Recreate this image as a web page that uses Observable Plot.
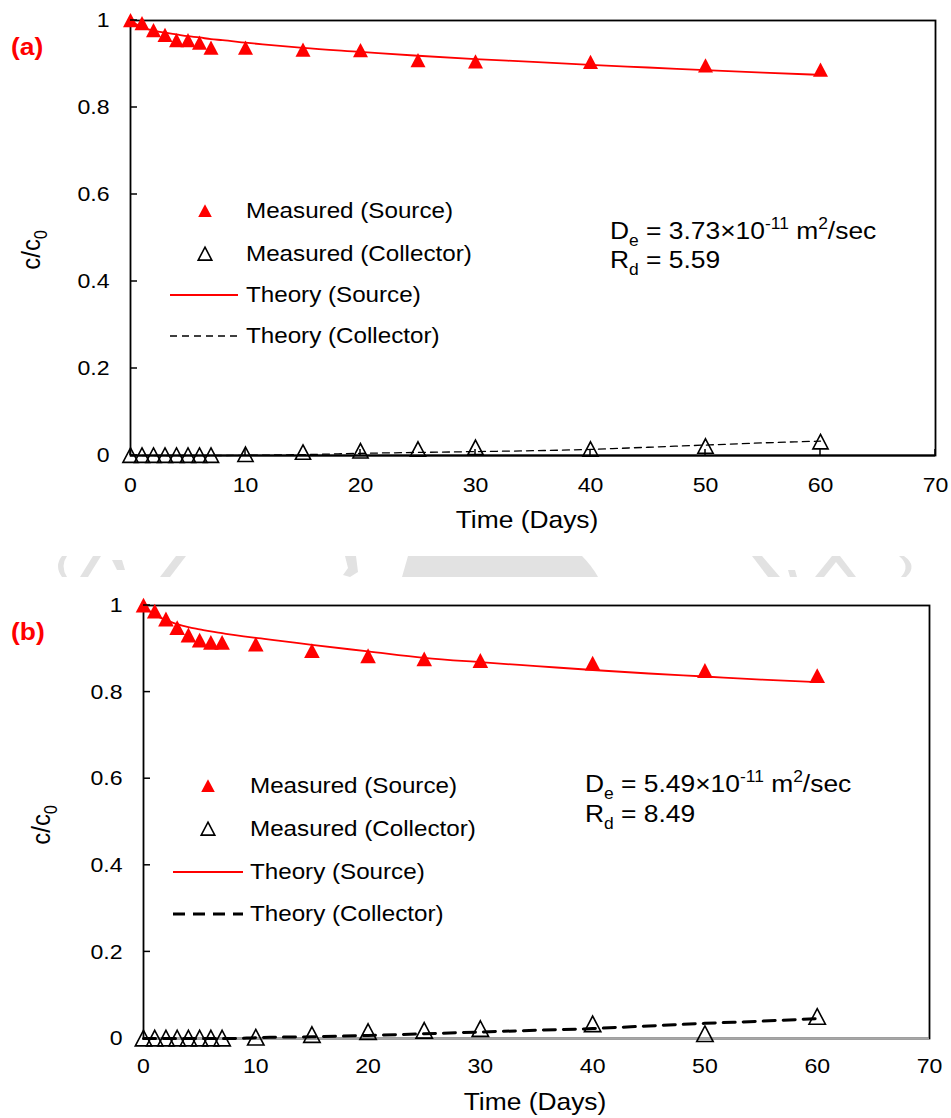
<!DOCTYPE html>
<html>
<head>
<meta charset="utf-8">
<script src="https://cdn.jsdelivr.net/npm/d3@7"></script>
<script src="https://cdn.jsdelivr.net/npm/@observablehq/plot@0.6"></script>
<style>
  html,body{margin:0;padding:0;background:#fff;}
  #wrap{position:relative;width:951px;height:1118px;overflow:hidden;background:#fff;}
  #wrap svg{position:absolute;left:0;}
</style>
</head>
<body>
<div id="wrap"></div>
<script>
// ---------- data ----------
const days = [0,1,2,3,4,5,6,7,10,15,20,25,30,40,50,60];
const sourceA    = [1.0,0.993,0.977,0.966,0.954,0.954,0.948,0.937,0.937,0.932,0.931,0.908,0.905,0.904,0.896,0.886];
const collectorA = [0,0,0,0,0,0,0,0,0.002,0.007,0.010,0.014,0.018,0.014,0.021,0.031];
const sourceB    = [1.0,0.986,0.968,0.948,0.931,0.919,0.914,0.914,0.910,0.895,0.883,0.876,0.872,0.866,0.849,0.837];
const collectorB = [0,0,0,0,0,0,0,0,0.002,0.008,0.015,0.018,0.022,0.033,0.010,0.050];

const theoryDays = [0,1,2,3,4,5,6,7,8,10,12,15,20,25,30,35,40,45,50,55,60];
const theorySourceA    = [1.0,0.984,0.977,0.972,0.968,0.964,0.961,0.957,0.955,0.949,0.944,0.937,0.928,0.919,0.911,0.905,0.898,0.892,0.886,0.880,0.875];
const theoryCollectorA = [0,0,0,0,0,0,0,0,0,0.0005,0.001,0.002,0.005,0.007,0.009,0.011,0.014,0.019,0.024,0.029,0.033];
const theorySourceB    = [1.0,0.978,0.967,0.957,0.950,0.945,0.940,0.936,0.932,0.925,0.919,0.909,0.894,0.879,0.869,0.860,0.851,0.843,0.836,0.829,0.823];
const theoryCollectorB = [0,0,0,0,0,0,0,0,0,0.002,0.003,0.004,0.007,0.011,0.015,0.019,0.023,0.029,0.035,0.040,0.046];

const xTickValues = [0,10,20,30,40,50,60,70];
const yTickValues = [0,0.2,0.4,0.6,0.8,1];
const yTickLabels = ["0","0.2","0.4","0.6","0.8","1"];
const legendLabels = ["Measured (Source)","Measured (Collector)","Theory (Source)","Theory (Collector)"];
const panelTags = ["(a)","(b)"];
const deValues = ["3.73","5.49"];
const rdValues = ["5.59","8.49"];
const xTitle = "Time (Days)";

// ---------- styling ----------
const FONT = '"Liberation Sans", Arial, Helvetica, sans-serif';
const SX = 1.1;           // the scanned figure is stretched horizontally
const RED = "#ff0000";

const tri = {draw(ctx, size){ const a = Math.sqrt(size/Math.PI); ctx.moveTo(0,-a); ctx.lineTo(a,0.9*a); ctx.lineTo(-a,0.9*a); ctx.closePath(); }};
function triPath(a){ return `M0,${-a}L${a},${0.9*a}L${-a},${0.9*a}Z`; }

const panels = [
  {top:0, height:559, mt:20, mb:104, ml:130, mr:16, xPad:22,
   source:sourceA, collector:collectorA, tS:theorySourceA, tC:theoryCollectorA,
   dash:"7,5", dashW:1.3, base:"black", xInner:true, rS:7.5, rC:7.6,
   tag:[11,55], title:[527,528], ytitle:[40,250],
   leg:{sym:205, x1:170, x2:238, tx:246, rows:[211,254,295,336], r:6.8},
   ann:{x:610, y1:239, y2:268}},
  {top:559, height:559, mt:46, mb:80, ml:143, mr:22, xPad:20,
   source:sourceB, collector:collectorB, tS:theorySourceB, tC:theoryCollectorB,
   dash:"12,8", dashW:3, base:"#a6a6a6", xInner:false, rS:7.8, rC:8.2,
   tag:[11,81], title:[535,551], ytitle:[50,266],
   leg:{sym:208, x1:173, x2:243, tx:250, rows:[227,270,313,355], r:6.8},
   ann:{x:585, y1:233, y2:263}}
];

const wrap = document.getElementById("wrap");

// faint scan watermark between the two panels (background decoration)
const wm = d3.select(wrap).append("svg").attr("width",951).attr("height",1118).style("top","0px");
const wmShapes = [
  "M62,556 Q54,566 62,577 L67,577 Q60,566 67,556Z",
  "M80,577 L93,556 L101,556 L88,577Z",
  "M112,560 L122,560 L125,570 L117,570Z",
  "M160,577 L176,556 L186,556 L170,577Z",
  "M345,556 L356,556 L358,572 L350,577 L343,575 L348,568Z",
  "M408,556 L582,556 Q592,566 598,577 L402,577Z",
  "M752,556 L762,556 L780,577 L768,577Z",
  "M788,570 L795,570 L797,577 L790,577Z",
  "M815,577 L832,556 L840,556 L856,577 L848,577 L836,562 L824,577Z",
  "M904,556 Q918,566 906,577 L901,577 Q911,566 899,556Z"
];
wmShapes.forEach(d => wm.append("path").attr("d", d).attr("fill", "#e2e2e2"));

function richText(sel, x, y, parts, size, attrs = {}) {
  const t = sel.append("text")
    .attr("transform", `translate(${x},${y}) scale(${SX},1)`)
    .attr("font-family", FONT).attr("font-size", size).attr("fill", "black")
    .attr("text-anchor", "start");
  for (const k in attrs) t.attr(k, attrs[k]);
  let shift = 0;
  for (const [s, kind] of parts) {
    const target = kind === "sub" ? size*0.28 : kind === "sup" ? -size*0.4 : 0;
    const ts = t.append("tspan").text(s).attr("dy", target - shift);
    if (kind) ts.attr("font-size", size*0.66);
    shift = target;
  }
  return t;
}

panels.forEach((p, pi) => {
  const meas = days.map((d,i) => ({t:d, s:p.source[i], c:p.collector[i]}));
  const theo = theoryDays.map((d,i) => ({t:d, s:p.tS[i], c:p.tC[i]}));
  const marks = [
    Plot.axisX({ticks:xTickValues, tickSize:0, tickPadding:p.xPad, fontSize:21, label:null, tickFormat:d=>String(d)}),
    Plot.axisY({ticks:yTickValues, tickSize:0, tickPadding:21, fontSize:21, label:null, tickFormat:d=>yTickLabels[yTickValues.indexOf(d)]}),
    Plot.frame({stroke:"black", strokeWidth:1.8}),
    Plot.ruleY([0], {stroke:p.base, strokeWidth:2}),
    Plot.dot(meas, {x:"t", y:"c", symbol:tri, r:p.rC, fill:"none", stroke:"black", strokeWidth:1.6}),
    Plot.dot(meas, {x:"t", y:"s", symbol:tri, r:p.rS, fill:RED}),
    Plot.line(theo, {x:"t", y:"s", stroke:RED, strokeWidth:1.8, curve:"monotone-x"}),
    Plot.line(theo, {x:"t", y:"c", stroke:"black", strokeWidth:p.dashW, strokeDasharray:p.dash, curve:"monotone-x"})
  ];
  const chart = Plot.plot({
    width:951, height:p.height,
    marginTop:p.mt, marginBottom:p.mb, marginLeft:p.ml, marginRight:p.mr,
    style:{fontFamily:FONT, fontSize:"21px", background:"transparent", overflow:"visible", color:"black"},
    x:{domain:[0,70]},
    y:{domain:[0,1]},
    marks
  });
  chart.style.top = p.top + "px";
  wrap.appendChild(chart);

  // stretch Plot's own texts like the scanned original
  d3.select(chart).selectAll("text").each(function(){
    const t = this.getAttribute("transform");
    if (t) this.setAttribute("transform", t + ` scale(${SX},1)`);
  });

  const svg = d3.select(chart);
  const xs = chart.scale("x"), ys = chart.scale("y");
  const x0 = xs.apply(0), y0 = ys.apply(0);

  // inner tick marks
  const tg = svg.append("g").attr("stroke","black").attr("stroke-width",1.5);
  for (const v of yTickValues) tg.append("line").attr("x1",x0).attr("x2",x0+7).attr("y1",ys.apply(v)).attr("y2",ys.apply(v));
  if (p.xInner) for (const v of xTickValues) tg.append("line").attr("x1",xs.apply(v)).attr("x2",xs.apply(v)).attr("y1",y0).attr("y2",y0-6);

  // legend
  const L = p.leg;
  const lg = svg.append("g");
  lg.append("path").attr("d", triPath(L.r)).attr("transform",`translate(${L.sym},${L.rows[0]})`).attr("fill",RED);
  lg.append("path").attr("d", triPath(L.r)).attr("transform",`translate(${L.sym},${L.rows[1]})`).attr("fill","none").attr("stroke","black").attr("stroke-width",1.6);
  lg.append("line").attr("x1",L.x1).attr("x2",L.x2).attr("y1",L.rows[2]).attr("y2",L.rows[2]).attr("stroke",RED).attr("stroke-width",1.8);
  lg.append("line").attr("x1",L.x1).attr("x2",L.x2).attr("y1",L.rows[3]).attr("y2",L.rows[3]).attr("stroke","black").attr("stroke-width",p.dashW).attr("stroke-dasharray",p.dash);
  legendLabels.forEach((s,i) => richText(lg, L.tx, L.rows[i]+7, [[s,""]], 22));

  // annotation
  richText(svg, p.ann.x, p.ann.y1, [["D",""],["e","sub"],[" = " + deValues[pi] + "\u00d710",""],["-11","sup"],[" m",""],["2","sup"],["/sec",""]], 24);
  richText(svg, p.ann.x, p.ann.y2, [["R",""],["d","sub"],[" = " + rdValues[pi],""]], 24);

  // panel tag
  richText(svg, p.tag[0], p.tag[1], [[panelTags[pi],""]], 24, {"font-weight":"bold", fill:RED});

  // axis titles
  richText(svg, p.title[0], p.title[1], [[xTitle,""]], 24, {"text-anchor":"middle"});
  const yt = svg.append("text")
    .attr("transform", `translate(${p.ytitle[0]},${p.ytitle[1]}) rotate(-90) scale(1,${SX})`)
    .attr("font-family", FONT).attr("font-size", 24).attr("text-anchor","middle").attr("fill","black");
  yt.append("tspan").text("c/c");
  yt.append("tspan").text("0").attr("font-size", 16).attr("dy", 6);
});
</script>
</body>
</html>
